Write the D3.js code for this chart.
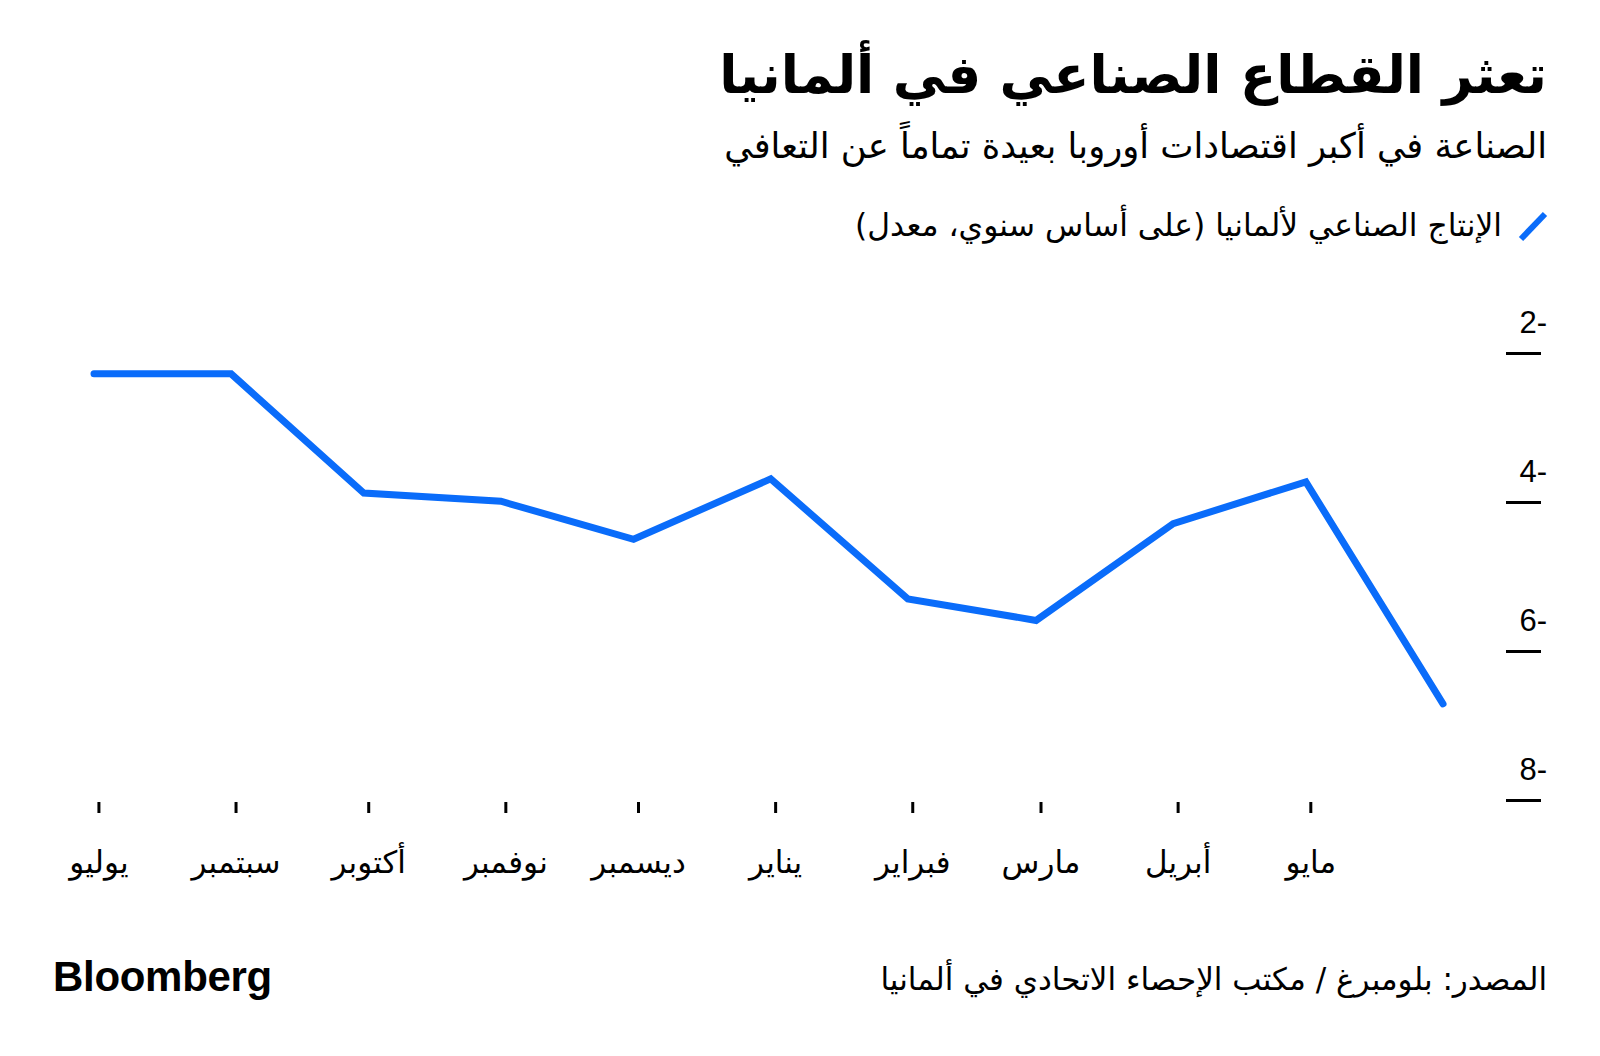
<!DOCTYPE html>
<html>
<head>
<meta charset="utf-8">
<script src="https://cdn.jsdelivr.net/npm/d3@7"></script>
<style>
  html, body { margin: 0; padding: 0; background: #fff; }
  svg { display: block; }
  .ar { font-family: "DejaVu Sans", sans-serif; }
</style>
</head>
<body>
<svg id="chart" width="1600" height="1056"></svg>
<script>
// ---- data ----
const pointDates = ["2023-07-31","2023-08-31","2023-09-30","2023-10-31","2023-11-30","2023-12-31",
                    "2024-01-31","2024-02-29","2024-03-31","2024-04-30","2024-05-31"];
const values = [-2.28, -2.28, -3.88, -3.99, -4.50, -3.69, -5.30, -5.59, -4.29, -3.73, -6.71];
const tickDates = ["2023-08-01","2023-09-01","2023-10-01","2023-11-01","2023-12-01",
                   "2024-01-01","2024-02-01","2024-03-01","2024-04-01","2024-05-01"];
const tickLabels = ["يوليو","سبتمبر","أكتوبر","نوفمبر","ديسمبر","يناير","فبراير","مارس","أبريل","مايو"];
const yTicks = [-2, -4, -6, -8];

const titleText = "تعثر القطاع الصناعي في ألمانيا";
const subtitleText = "الصناعة في أكبر اقتصادات أوروبا بعيدة تماماً عن التعافي";
const legendText = "الإنتاج الصناعي لألمانيا (على أساس سنوي، معدل)";
const sourceText = "المصدر: بلومبرغ / مكتب الإحصاء الاتحادي في ألمانيا";

// ---- setup ----
const parse = d3.utcParse("%Y-%m-%d");
const data = pointDates.map((d, i) => ({ date: parse(d), value: values[i] }));
const ticks = tickDates.map(parse);
const blue = "#0A6CFA";

const svg = d3.select("#chart");
svg.append("rect").attr("width", 1600).attr("height", 1056).attr("fill", "#fff");

const x = d3.scaleUtc().domain([data[0].date, data[data.length - 1].date]).range([94, 1443]);
const y = d3.scaleLinear().domain([-8, -2]).range([800, 353]);

function fit(sel, target) {
  const w = sel.node().getComputedTextLength();
  const fs = parseFloat(sel.attr("font-size"));
  sel.attr("font-size", fs * target / w);
}

// ---- header ----
const title = svg.append("text").attr("class", "ar")
  .attr("x", 1547).attr("y", 93)
  .attr("direction", "rtl").attr("text-anchor", "start")
  .attr("font-size", 56).attr("font-weight", "bold").attr("fill", "#000")
  .text(titleText);
fit(title, 828);

const sub = svg.append("text").attr("class", "ar")
  .attr("x", 1547).attr("y", 158)
  .attr("direction", "rtl").attr("text-anchor", "start")
  .attr("font-size", 30).attr("fill", "#000")
  .text(subtitleText);
fit(sub, 823);

// legend
svg.append("line")
  .attr("x1", 1521).attr("y1", 239).attr("x2", 1545).attr("y2", 214)
  .attr("stroke", blue).attr("stroke-width", 6).attr("stroke-linecap", "butt");
const leg = svg.append("text").attr("class", "ar")
  .attr("x", 1502).attr("y", 236)
  .attr("direction", "rtl").attr("text-anchor", "start")
  .attr("font-size", 26).attr("fill", "#000")
  .text(legendText);
fit(leg, 647);

// ---- y axis (right) ----
const yAxis = d3.axisLeft(y).tickValues(yTicks).tickSize(35).tickFormat(d => `${-d}-`);
const gy = svg.append("g").attr("transform", "translate(1541,0)").call(yAxis);
gy.select(".domain").remove();
gy.selectAll(".tick line").attr("stroke", "#000").attr("stroke-width", 3);
gy.selectAll(".tick text")
  .attr("x", 6).attr("y", -21).attr("dy", 0)
  .attr("text-anchor", "end")
  .attr("font-family", "'Liberation Sans', Arial, sans-serif")
  .attr("font-size", 31).attr("fill", "#000");

// ---- x axis ----
const xAxis = d3.axisBottom(x).tickValues(ticks).tickSize(11)
  .tickFormat((d, i) => tickLabels[i]);
const gx = svg.append("g").attr("transform", "translate(0,802)").call(xAxis);
gx.select(".domain").remove();
gx.selectAll(".tick line").attr("stroke", "#000").attr("stroke-width", 3);
gx.selectAll(".tick text")
  .attr("class", "ar")
  .attr("y", 71).attr("dy", 0)
  .attr("font-family", "'DejaVu Sans', sans-serif")
  .attr("font-size", 31).attr("fill", "#000");

// ---- line ----
const line = d3.line().x(d => x(d.date)).y(d => y(d.value));
svg.append("path").datum(data)
  .attr("d", line)
  .attr("fill", "none")
  .attr("stroke", blue)
  .attr("stroke-width", 7)
  .attr("stroke-linejoin", "miter")
  .attr("stroke-linecap", "round");

// ---- footer ----
const src = svg.append("text").attr("class", "ar")
  .attr("x", 1547).attr("y", 990)
  .attr("direction", "rtl").attr("text-anchor", "start")
  .attr("font-size", 26).attr("fill", "#000")
  .text(sourceText);
fit(src, 667);

svg.append("text")
  .attr("x", 53).attr("y", 991)
  .attr("font-family", "'Liberation Sans', Arial, sans-serif")
  .attr("font-weight", "bold").attr("font-size", 42)
  .attr("letter-spacing", -0.3)
  .attr("fill", "#000")
  .text("Bloomberg");
</script>
</body>
</html>
